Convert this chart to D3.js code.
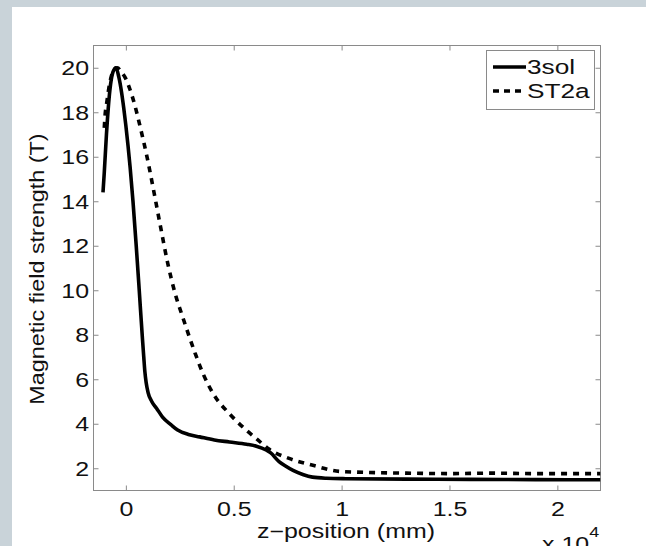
<!DOCTYPE html>
<html>
<head>
<meta charset="utf-8">
<script src="https://cdn.jsdelivr.net/npm/d3@7"></script>
<style>
  html, body { margin: 0; padding: 0; background: #c9d3d9; }
  #chart { width: 646px; height: 546px; }
  text { font-family: "Liberation Sans", Arial, Helvetica, sans-serif; }
</style>
</head>
<body>
<div id="chart"></div>
<script>
// 3sol (solid) curve: z-position (mm) and field (T)
const sol3Z = [-1060, -1000, -900, -740, -600, -460, -330, -200, -100, 0, 100, 200, 330, 480, 620, 770, 830, 880, 940, 1030, 1200, 1420, 1700, 2100, 2400, 2900, 3420, 4100, 4800, 5600, 6050, 6500, 6700, 7100, 7400, 7750, 8200, 8650, 9300, 10200, 13000, 16000, 19000, 22000];
const sol3B = [14.4, 15.3, 17.0, 19.0, 19.8, 20.0, 19.6, 18.9, 18.2, 17.4, 16.5, 15.5, 14.0, 12.0, 10.0, 7.8, 7.0, 6.35, 5.85, 5.4, 5.0, 4.7, 4.3, 3.95, 3.72, 3.52, 3.41, 3.27, 3.18, 3.08, 2.99, 2.82, 2.70, 2.30, 2.10, 1.90, 1.72, 1.60, 1.55, 1.53, 1.51, 1.50, 1.49, 1.48];

// ST2a (dashed) curve
const st2aZ = [-1000, -960, -890, -750, -550, -400, -200, 0, 200, 420, 650, 990, 1310, 1620, 1944, 2270, 2650, 3200, 3600, 4050, 4800, 5150, 5600, 6050, 6650, 7600, 8670, 9900, 11000, 13000, 15000, 17000, 19000, 22000];
const st2aB = [17.3, 17.9, 18.4, 19.3, 19.9, 20.0, 19.8, 19.5, 19.0, 18.3, 17.4, 15.95, 14.37, 12.79, 11.2, 9.9, 8.75, 7.2, 6.2, 5.35, 4.45, 4.1, 3.7, 3.33, 2.85, 2.43, 2.13, 1.86, 1.82, 1.78, 1.76, 1.78, 1.76, 1.76];

const xTicks = [0, 5000, 10000, 15000, 20000];
const xTickLabels = ['0', '0.5', '1', '1.5', '2'];
const yTicks = [2, 4, 6, 8, 10, 12, 14, 16, 18, 20];
const seriesNames = ['3sol', 'ST2a'];

const W = 646, H = 546;
const plot = { left: 93.5, top: 45.5, right: 600.5, bottom: 490.5 };
const axisGray = '#8a8a8a';
const fontSize = 19.5;
const stretch = 1.28; // the original text is wider than it is tall

const svg = d3.select('#chart').append('svg')
    .attr('width', W)
    .attr('height', H);

// white panel, grey frame left and top
svg.append('rect')
    .attr('x', 12).attr('y', 7)
    .attr('width', W - 12).attr('height', H - 7)
    .attr('fill', '#ffffff');

const x = d3.scaleLinear().domain([-1500, 22000]).range([plot.left, plot.right]);
const y = d3.scaleLinear().domain([1, 21]).range([plot.bottom, plot.top]);

svg.append('clipPath').attr('id', 'clip')
    .append('rect')
    .attr('x', plot.left).attr('y', plot.top)
    .attr('width', plot.right - plot.left)
    .attr('height', plot.bottom - plot.top);

// --- Axes (ticks inside, mirrored top/right) ---
const tickLen = 5;
const fmtX = d => xTickLabels[xTicks.indexOf(d)];

svg.append('g')
    .attr('transform', `translate(0,${plot.bottom})`)
    .call(d3.axisBottom(x).tickValues(xTicks).tickSize(-tickLen).tickPadding(12).tickFormat(fmtX))
    .call(g => g.select('.domain').remove())
    .call(g => g.selectAll('line').attr('stroke', axisGray))
    .call(g => g.selectAll('text')
        .attr('font-size', fontSize).attr('fill', '#111')
        .attr('transform', `scale(${stretch},1)`));

svg.append('g')
    .attr('transform', `translate(0,${plot.top})`)
    .call(d3.axisTop(x).tickValues(xTicks).tickSize(-tickLen).tickFormat(''))
    .call(g => g.select('.domain').remove())
    .call(g => g.selectAll('line').attr('stroke', axisGray));

svg.append('g')
    .attr('transform', `translate(${plot.left},0)`)
    .call(d3.axisLeft(y).tickValues(yTicks).tickSize(-tickLen).tickFormat(d3.format('d')))
    .call(g => g.select('.domain').remove())
    .call(g => g.selectAll('line').attr('stroke', axisGray))
    .call(g => g.selectAll('text')
        .attr('font-size', fontSize).attr('fill', '#111')
        .attr('x', -4.5 / stretch)
        .attr('dy', '0.36em')
        .attr('transform', `scale(${stretch},1)`));

svg.append('g')
    .attr('transform', `translate(${plot.right},0)`)
    .call(d3.axisRight(y).tickValues(yTicks).tickSize(-tickLen).tickFormat(''))
    .call(g => g.select('.domain').remove())
    .call(g => g.selectAll('line').attr('stroke', axisGray));

svg.append('rect')
    .attr('x', plot.left).attr('y', plot.top)
    .attr('width', plot.right - plot.left)
    .attr('height', plot.bottom - plot.top)
    .attr('fill', 'none')
    .attr('stroke', axisGray)
    .attr('stroke-width', 1);

// --- Curves ---
const line = d3.line()
    .x(d => x(d[0]))
    .y(d => y(d[1]))
    .curve(d3.curveMonotoneX);

const curves = svg.append('g').attr('clip-path', 'url(#clip)');

curves.append('path')
    .datum(d3.zip(st2aZ, st2aB))
    .attr('d', line)
    .attr('fill', 'none')
    .attr('stroke', '#000')
    .attr('stroke-width', 3.6)
    .attr('stroke-dasharray', '6,6');

curves.append('path')
    .datum(d3.zip(sol3Z, sol3B))
    .attr('d', line)
    .attr('fill', 'none')
    .attr('stroke', '#000')
    .attr('stroke-width', 3.6)
    .attr('stroke-linejoin', 'round');

// --- Labels ---
svg.append('text')
    .attr('transform', `translate(346,538) scale(${stretch},1)`)
    .attr('text-anchor', 'middle')
    .attr('font-size', fontSize)
    .attr('fill', '#111')
    .text('z\u2212position (mm)');

const mult = svg.append('text')
    .attr('transform', `translate(542,551) scale(${stretch},1)`)
    .attr('font-size', fontSize)
    .attr('fill', '#111');
mult.append('tspan').text('x 10');
mult.append('tspan').attr('dy', -14).attr('font-size', 14).text('4');

svg.append('text')
    .attr('transform', `translate(44,${(plot.top + plot.bottom) / 2 + 1}) rotate(-90) scale(1.14,1)`)
    .attr('text-anchor', 'middle')
    .attr('font-size', 20.5)
    .attr('fill', '#111')
    .text('Magnetic field strength (T)');

// --- Legend ---
const legend = svg.append('g');
legend.append('rect')
    .attr('x', 486.5).attr('y', 50.5)
    .attr('width', 108).attr('height', 59)
    .attr('fill', '#fff')
    .attr('stroke', axisGray);

const legendItems = legend.selectAll('.legend-item')
    .data(seriesNames)
    .enter().append('g')
    .attr('class', 'legend-item')
    .attr('transform', (d, i) => `translate(0, ${67 + i * 24})`);

legendItems.append('line')
    .attr('x1', 493).attr('x2', 526)
    .attr('stroke', '#000')
    .attr('stroke-width', 3.6)
    .attr('stroke-dasharray', (d, i) => i === 0 ? null : '6,5');

legendItems.append('text')
    .attr('transform', `translate(527,0) scale(${stretch},1)`)
    .attr('dy', '0.36em')
    .attr('font-size', 20.5)
    .attr('fill', '#111')
    .text(d => d);
</script>
</body>
</html>
